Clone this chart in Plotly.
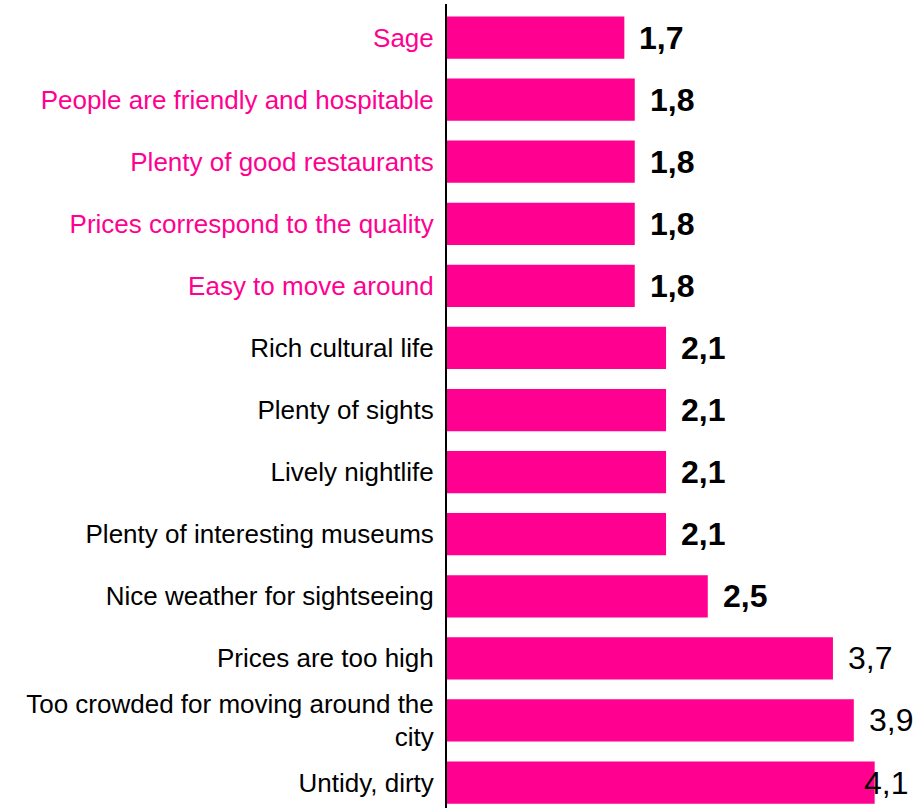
import plotly.graph_objects as go

categories = [
    "Sage",
    "People are friendly and hospitable",
    "Plenty of good restaurants",
    "Prices correspond to the quality",
    "Easy to move around",
    "Rich cultural life",
    "Plenty of sights",
    "Lively nightlife",
    "Plenty of interesting museums",
    "Nice weather for sightseeing",
    "Prices are too high",
    "Too crowded for moving around the<br>city",
    "Untidy, dirty",
]
values = [1.7, 1.8, 1.8, 1.8, 1.8, 2.1, 2.1, 2.1, 2.1, 2.5, 3.7, 3.9, 4.1]
positive = [True, True, True, True, True, False, False, False, False, False, False, False, False]
bold_value = [True] * 10 + [False] * 3

PINK = "#FF0090"
idx = list(range(len(categories)))

ticktext = [
    f"<span style='color:{PINK}'>{c}</span>" if p else c
    for c, p in zip(categories, positive)
]

fig = go.Figure()
fig.add_trace(go.Bar(
    x=values,
    y=idx,
    orientation="h",
    marker=dict(color=PINK, line=dict(width=0)),
    width=0.68,
    hoverinfo="skip",
))

for i, (v, b) in enumerate(zip(values, bold_value)):
    s = f"{v:.1f}".replace(".", ",")
    txt = f"<b>{s}</b>" if b else s
    shift = 13 if i < len(values) - 1 else -13
    fig.add_annotation(
        x=v, y=i, xref="x", yref="y", text=txt, showarrow=False,
        xanchor="left", yanchor="middle", xshift=shift,
        font=dict(family="Liberation Sans, Arial", size=32, color="#000000"),
    )

fig.update_layout(
    width=919, height=808,
    margin=dict(l=447, r=0, t=4, b=0),
    paper_bgcolor="white", plot_bgcolor="white",
    showlegend=False,
    font=dict(family="Liberation Sans, Arial", size=26, color="#000000"),
)
fig.update_xaxes(range=[0, 4.525], visible=False, showgrid=False, zeroline=False)
fig.update_yaxes(
    range=[12.41, -0.54],
    tickmode="array", tickvals=idx, ticktext=ticktext,
    showgrid=False, zeroline=False, automargin=False,
    showline=True, linecolor="#000000", linewidth=2,
    ticks="", ticklabelstandoff=6,
    tickfont=dict(family="Liberation Sans, Arial", size=26, color="#000000"),
)

fig.write_html(
    "out.html",
    config={"displayModeBar": False},
    post_script="document.body.style.margin='0';document.body.style.overflow='hidden';",
)
